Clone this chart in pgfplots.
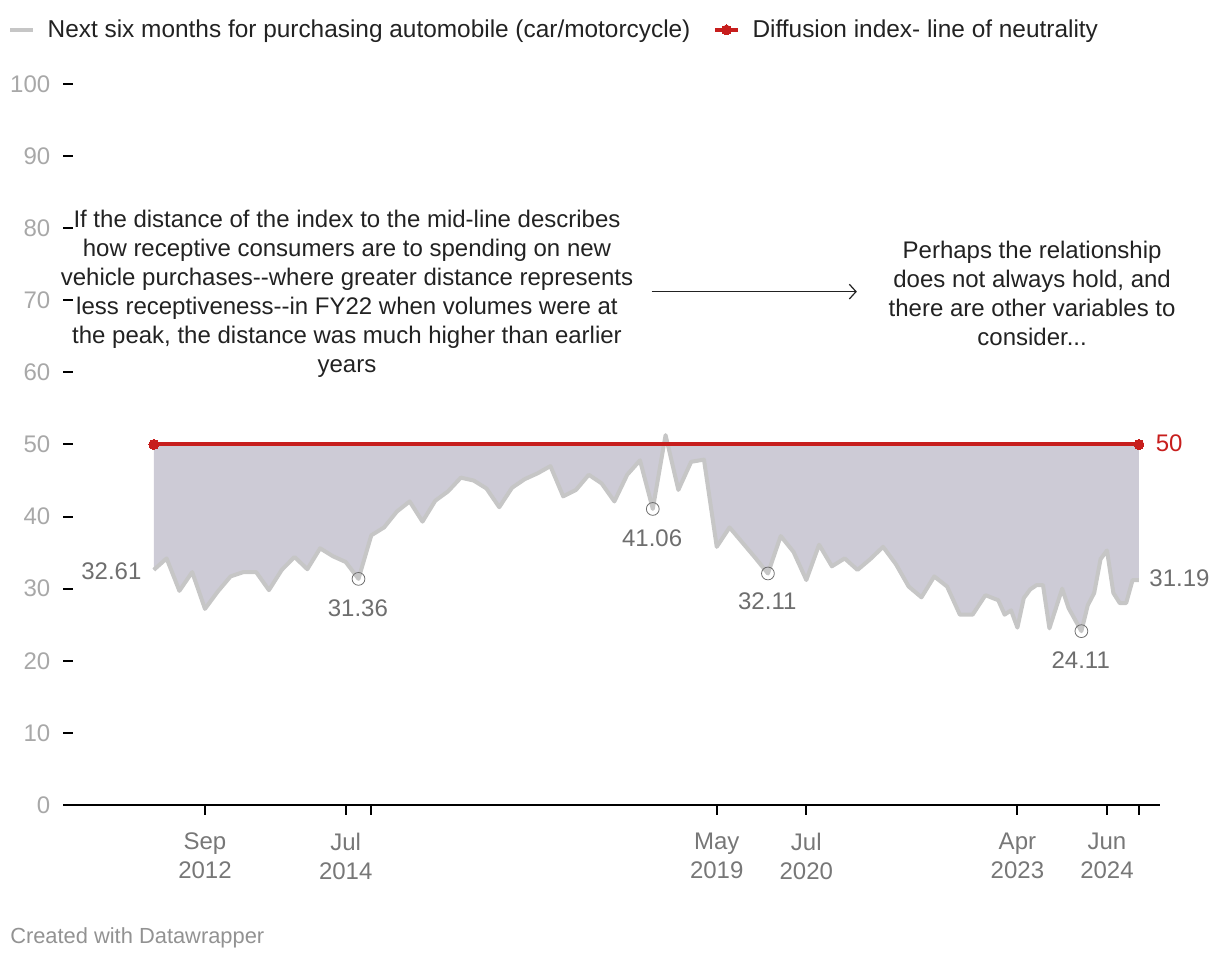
\documentclass[border=0pt]{standalone}
\usepackage{pgfplots}
\usepackage{pgfplotstable}
\pgfplotsset{compat=1.18}
\usepgfplotslibrary{fillbetween}
\usetikzlibrary{arrows.meta}
\usepackage{fontspec}
\setmainfont{Liberation Sans}
\definecolor{areagray}{HTML}{CDCBD6}
\definecolor{linegray}{HTML}{C6C6C6}
\definecolor{dwred}{HTML}{C71E1D}
\definecolor{ticklab}{HTML}{A8A8A8}
\definecolor{xlab}{HTML}{777777}
\definecolor{vallab}{HTML}{6E6E6E}
\definecolor{txt}{HTML}{222222}

\pgfplotstableread{
m v
0 32.61
2 34.2
4 29.7
6 32.3
8 27.2
10 29.6
12 31.7
14 32.3
16 32.3
18 29.8
20 32.6
22 34.4
24 32.7
26 35.6
28 34.5
30 33.7
32 31.36
34 37.4
36 38.5
38 40.7
40 42.1
42 39.3
44 42.2
46 43.5
48 45.4
50 45.0
52 43.9
54 41.3
56 44.0
58 45.2
60 46.0
62 47.0
64 42.8
66 43.7
68 45.8
70 44.6
72 42.1
74 45.8
76 47.8
78 41.06
80 51.3
82 43.7
84 47.6
86 47.9
88 35.8
90 38.5
92 36.4
94 34.3
96 32.11
98 37.3
100 35.1
102 31.2
104 36.1
106 33.1
108 34.2
110 32.6
112 34.1
114 35.8
116 33.4
118 30.3
120 28.8
122 31.7
124 30.3
126 26.4
128 26.4
130 29.1
132 28.4
133 26.4
134 27.0
135 24.6
136 28.7
137 29.9
138 30.5
139 30.5
140 24.5
142 30.0
143 27.3
145 24.11
146 27.7
147 29.4
148 34.1
149 35.3
150 29.4
151 28.0
152 28.0
153 31.2
154 31.19
}\datatable

\newcommand{\fs}{\fontsize{18}{21.75}\selectfont}

\begin{document}
\begin{tikzpicture}
\begin{axis}[
  at={(54.75pt,117.75pt)}, anchor=south west,
  scale only axis, width=815.25pt, height=540.75pt,
  xmin=-12.63, xmax=157.29, ymin=0, ymax=100,
  clip=false, set layers,
  axis x line*=bottom, axis y line*=left,
  x axis line style={-, black, line width=1.5pt, shorten <=-7.5pt},
  y axis line style={draw=none},
  tick align=outside,
  major tick length=7.5pt,
  tick style={black, line width=1.5pt},
  /pgf/number format/assume math mode=true,
  xtick={8,30,34,88,102,135,149,154},
  xticklabels={Sep\\2012, Jul\\2014, {}, May\\2019, Jul\\2020, Apr\\2023, Jun\\2024, {}},
  xticklabel style={align=center, text=xlab, font=\fs, yshift=-10pt},
  ytick={0,10,...,100},
  yticklabel style={text=ticklab, font=\fs, xshift=-6pt},
  legend style={at={(-0.0598,1.0749)}, anchor=west, draw=none, fill=none,
    font=\fontsize{18.3}{21}\selectfont\color{txt}, legend columns=2,
    /tikz/every even column/.append style={column sep=15pt},
    /tikz/every odd column/.append style={column sep=7.5pt}, inner sep=0pt},
  legend cell align=left,
]
\addplot[name path=idx, draw=linegray, line width=3pt, line join=round] table[x=m,y=v]{\datatable};
\addplot[name path=mid, draw=dwred, line width=3pt, mark=*, mark size=3.75pt, mark options={fill=dwred, draw=dwred, line width=0pt}] coordinates {(0,50) (154,50)};
\addplot[areagray, forget plot] fill between[of=idx and mid];
\addplot[only marks, mark=o, mark size=4.8pt, mark options={draw=vallab, line width=0.6pt}, forget plot] coordinates {(32,31.36) (78,41.06) (96,32.11) (145,24.11)};
\legend{Next six months for purchasing automobile (car/motorcycle), Diffusion index- line of neutrality}

\node[anchor=east, text=vallab, font=\fs] at (axis cs:-1.2,32.45) {32.61};
\node[text=vallab, font=\fs] at (axis cs:31.9,27.3) {31.36};
\node[text=vallab, font=\fs] at (axis cs:77.9,37.0) {41.06};
\node[text=vallab, font=\fs] at (axis cs:95.9,28.2) {32.11};
\node[text=vallab, font=\fs] at (axis cs:144.9,20.1) {24.11};
\node[anchor=west, text=vallab, font=\fs] at (axis cs:154.9,31.5) {31.19};
\node[anchor=west, text=dwred, font=\fs] at (axis cs:155.9,50.2) {50};

\node[align=center, text=txt, font=\fs] at (axis cs:30.2,70.95) {If the distance of the index to the mid-line describes\\how receptive consumers are to spending on new\\vehicle purchases-{}-where greater distance represents\\less receptiveness-{}-in FY22 when volumes were at\\the peak, the distance was much higher than earlier\\years};
\node[align=center, text=txt, font=\fs] at (axis cs:137.3,71.0) {Perhaps the relationship\\does not always hold, and\\there are other variables to\\consider...};
\draw[-{Straight Barb[length=5pt, width=11pt]}, line width=0.9pt, txt] (axis cs:77.8,71.2) -- (axis cs:109.9,71.2);
\end{axis}
\node[anchor=west, text=xlab!80, font=\fontsize{16.4}{19}\selectfont, inner sep=0pt] at (7.5pt,18pt) {Created with Datawrapper};
\pgfresetboundingbox
\useasboundingbox (0,0) rectangle (915pt,721.5pt);
\end{tikzpicture}
\end{document}
